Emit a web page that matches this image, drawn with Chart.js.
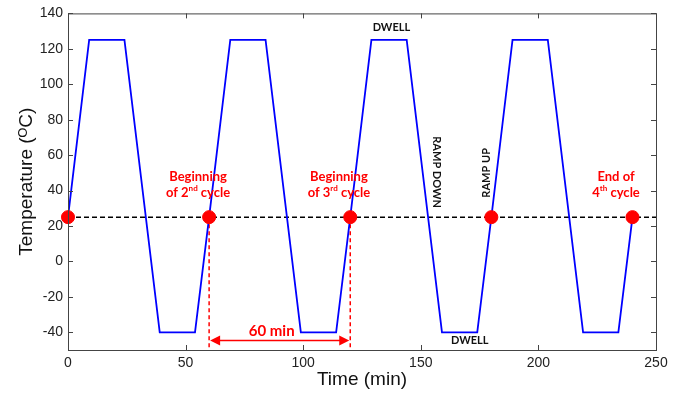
<!DOCTYPE html>
<html>
<head>
<meta charset="utf-8">
<script src="https://cdn.jsdelivr.net/npm/chart.js@4"></script>
<style>
  html, body { margin: 0; padding: 0; background: #fff; }
  #wrap { width: 687px; height: 396px; }
</style>
</head>
<body>
<div id="wrap"><canvas id="cycle_chart"></canvas></div>
<script>
// thermal cycle profile (min, degC)
const cycleTimes = [0, 9, 24, 39, 54, 60, 69, 84, 99, 114, 120, 129, 144, 159, 174, 180, 189, 204, 219, 234, 240];
const cycleTemps = [25, 125, 125, -40, -40, 25, 125, 125, -40, -40, 25, 125, 125, -40, -40, 25, 125, 125, -40, -40, 25];
const markerTimes = [0, 60, 120, 180, 240];
const refTemp = 25;
const refRange = [0, 250];
const spanTimes = [60, 120];
const xTicks = [0, 50, 100, 150, 200, 250];
const yTicks = [-40, -20, 0, 20, 40, 60, 80, 100, 120, 140];

const cxt = document.getElementById("cycle_chart").getContext("2d");

const drawRich = (ctx, parts, cx, cy, size) => {
  let total = 0;
  parts.forEach((p) => {
    ctx.font = `bold ${p.sup ? size * 0.62 : size}px Lato, "Open Sans", sans-serif`;
    p.w = ctx.measureText(p.t).width;
    total += p.w;
  });
  let x = cx - total / 2;
  parts.forEach((p) => {
    ctx.font = `bold ${p.sup ? size * 0.62 : size}px Lato, "Open Sans", sans-serif`;
    ctx.fillText(p.t, x, p.sup ? cy - size * 0.35 : cy);
    x += p.w;
  });
};

const extras = {
  id: "extras",
  afterDatasetsDraw(chart) {
    const { ctx, chartArea: a } = chart;
    const xs = chart.scales.x;
    const ys = chart.scales.y;
    ctx.save();

    // box + inward ticks
    ctx.strokeStyle = "#444";
    ctx.lineWidth = 1;
    ctx.strokeRect(a.left + 0.5, a.top + 0.5, a.right - a.left, a.bottom - a.top);
    ctx.beginPath();
    xTicks.forEach((v) => {
      const px = Math.round(xs.getPixelForValue(v)) + 0.5;
      ctx.moveTo(px, a.bottom); ctx.lineTo(px, a.bottom - 5);
      ctx.moveTo(px, a.top); ctx.lineTo(px, a.top + 5);
    });
    yTicks.forEach((v) => {
      const py = Math.round(ys.getPixelForValue(v)) + 0.5;
      ctx.moveTo(a.left, py); ctx.lineTo(a.left + 5, py);
      ctx.moveTo(a.right, py); ctx.lineTo(a.right - 5, py);
    });
    ctx.stroke();

    // 60 min arrow
    const ay = ys.getPixelForValue(-44.7);
    const x1 = xs.getPixelForValue(spanTimes[0]);
    const x2 = xs.getPixelForValue(spanTimes[1]);
    ctx.strokeStyle = "#ff0000";
    ctx.fillStyle = "#ff0000";
    ctx.lineWidth = 1.5;
    ctx.beginPath();
    ctx.moveTo(x1 + 8, ay); ctx.lineTo(x2 - 8, ay);
    ctx.stroke();
    ctx.beginPath();
    ctx.moveTo(x1 + 1, ay); ctx.lineTo(x1 + 11, ay - 5); ctx.lineTo(x1 + 11, ay + 5); ctx.closePath();
    ctx.moveTo(x2 - 1, ay); ctx.lineTo(x2 - 11, ay - 5); ctx.lineTo(x2 - 11, ay + 5); ctx.closePath();
    ctx.fill();

    ctx.textBaseline = "middle";
    ctx.font = "bold 15px Lato, sans-serif";
    ctx.textAlign = "center";
    ctx.fillText("60 min", xs.getPixelForValue(86.6), ys.getPixelForValue(-39.2));

    // cycle labels
    ctx.textAlign = "left";
    const l1 = ys.getPixelForValue(47.6);
    const l2 = ys.getPixelForValue(38.5);
    drawRich(ctx, [{ t: "Beginning" }], xs.getPixelForValue(55.3), l1, 13);
    drawRich(ctx, [{ t: "of 2" }, { t: "nd", sup: true }, { t: " cycle" }], xs.getPixelForValue(55.3), l2, 13);
    drawRich(ctx, [{ t: "Beginning" }], xs.getPixelForValue(115.2), l1, 13);
    drawRich(ctx, [{ t: "of 3" }, { t: "rd", sup: true }, { t: " cycle" }], xs.getPixelForValue(115.2), l2, 13);
    drawRich(ctx, [{ t: "End of" }], xs.getPixelForValue(233), l1, 13);
    drawRich(ctx, [{ t: "4" }, { t: "th", sup: true }, { t: " cycle" }], xs.getPixelForValue(233), l2, 13);

    // phase labels
    ctx.fillStyle = "#111";
    ctx.textAlign = "center";
    ctx.font = "bold 11px Lato, sans-serif";
    ctx.fillText("DWELL", xs.getPixelForValue(137.5), ys.getPixelForValue(132.3));
    ctx.fillText("DWELL", xs.getPixelForValue(170.8), ys.getPixelForValue(-44.7));

    ctx.save();
    ctx.translate(xs.getPixelForValue(156.7), ys.getPixelForValue(50.4));
    ctx.rotate(Math.PI / 2);
    ctx.fillText("RAMP DOWN", 0, 0);
    ctx.restore();

    ctx.save();
    ctx.translate(xs.getPixelForValue(178), ys.getPixelForValue(50));
    ctx.rotate(-Math.PI / 2);
    ctx.fillText("RAMP UP", 0, 0);
    ctx.restore();

    ctx.restore();
  },
};

new Chart(cxt, {
  type: "line",
  data: {
    datasets: [
      {
        data: markerTimes.map((t) => ({ x: t, y: refTemp })),
        showLine: false,
        pointRadius: 6.5,
        pointBackgroundColor: "#ff0000",
        pointBorderColor: "#ff0000",
        clip: false,
        order: 0,
      },
      {
        data: cycleTimes.map((t, i) => ({ x: t, y: cycleTemps[i] })),
        borderColor: "#0000ff",
        borderWidth: 1.8,
        pointRadius: 0,
        tension: 0,
        order: 1,
      },
      {
        data: refRange.map((t) => ({ x: t, y: refTemp })),
        borderColor: "#000",
        borderWidth: 1.5,
        borderDash: [5, 3],
        pointRadius: 0,
        order: 2,
      },
      ...spanTimes.map((t) => ({
        data: [{ x: t, y: refTemp }, { x: t, y: -50 }],
        borderColor: "#ff0000",
        borderWidth: 1.5,
        borderDash: [4, 3],
        pointRadius: 0,
        order: 3,
      })),
    ],
  },
  options: {
    responsive: true,
    maintainAspectRatio: false,
    animation: false,
    layout: { padding: { top: 13, right: 31, left: 0, bottom: 0 } },
    plugins: { legend: { display: false }, tooltip: { enabled: false } },
    scales: {
      x: {
        type: "linear",
        min: 0,
        max: 250,
        afterBuildTicks: (s) => { s.ticks = xTicks.map((v) => ({ value: v })); },
        afterFit: (s) => { s.height = 46; },
        grid: { display: false, drawTicks: false },
        border: { display: false },
        ticks: { padding: 5, color: "#222", font: { family: "Liberation Sans", size: 14 } },
        title: {
          display: true,
          text: "Time (min)",
          color: "#111",
          font: { family: "Liberation Sans", size: 19 },
          padding: { top: 0, bottom: 5 },
        },
      },
      y: {
        min: -50,
        max: 140,
        afterBuildTicks: (s) => { s.ticks = yTicks.map((v) => ({ value: v })); },
        afterFit: (s) => { s.width = 68; },
        grid: { display: false, drawTicks: false },
        border: { display: false },
        ticks: { padding: 5, color: "#222", font: { family: "Liberation Sans", size: 14 } },
        title: {
          display: true,
          text: "Temperature (ᴼC)",
          color: "#111",
          font: { family: "Liberation Sans", size: 19 },
          padding: { top: 15, bottom: 0 },
        },
      },
    },
  },
  plugins: [extras],
});
</script>
</body>
</html>
